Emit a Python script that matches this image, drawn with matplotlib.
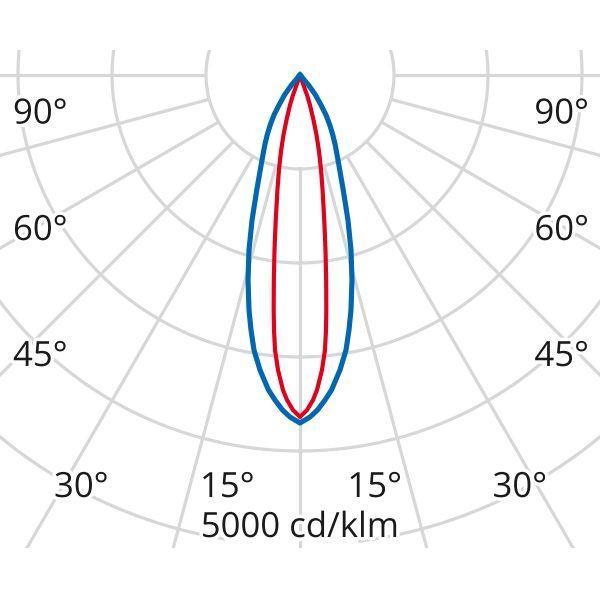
import numpy as np
import matplotlib
matplotlib.use("Agg")
import matplotlib.pyplot as plt
from matplotlib.patches import Rectangle
import matplotlib.patheffects as pe

# ---- data (cd/klm); angle in degrees from nadir ----
blue_angles = [0, 1.67, 2.99, 4.4, 5.71, 7.72, 9.5, 10.88, 12.24, 14.23,
               16.25, 18.3, 20.6, 22.1, 24.1, 26.7, 28.7, 30.8, 33.0, 35.0,
               37.8, 40.4, 43]
blue_values = [3702, 3640, 3569, 3468, 3368, 3167, 2966, 2762, 2558, 2250,
               1939, 1625, 1307, 1148, 990, 834, 727, 619, 508, 390,
               269, 140, 0]
red_angles = [0, 1.2, 2.29, 3.09, 4.26, 5.19, 5.82, 6.39, 7.28, 8.29, 9.5,
              11.1, 12.5, 14.1, 15.4, 16.7, 18.4, 19.3, 19.3, 20]
red_values = [3638, 3565, 3460, 3356, 3147, 2937, 2727, 2516, 2199, 1881,
              1564, 1247, 1035, 823, 662, 500, 336, 225, 113, 0]

grid_circles = [1000, 2000, 3000, 4000, 5000, 6000, 7000]
radial_angles = [-90, -75, -60, -45, -30, -15, 0, 15, 30, 45, 60, 75, 90]
left_labels = ["90°", "60°", "45°"]
bottom_labels = ["30°", "15°", "15°", "30°"]
scale_label = "5000 cd/klm"

# ---- layout ----
W = H = 600
px_per_unit = 94.0 / 1000.0        # pixels per cd/klm
cx, cy = 300, 75                   # polar centre (pixels from top-left)
rmax = 7000
R = rmax * px_per_unit

fig = plt.figure(figsize=(6, 6), dpi=100)
fig.patch.set_facecolor("white")
ax = fig.add_axes([(cx - R) / W, (H - cy - R) / H, 2 * R / W, 2 * R / H],
                  projection="polar")
ax.set_theta_zero_location("S")
ax.set_theta_direction(1)
ax.set_rlim(0, rmax)
ax.set_axis_off()

clip = Rectangle((0, (H - 548) / H), 1, (548 - 50) / H,
                 transform=fig.transFigure, facecolor="none", edgecolor="none")
fig.patches.append(clip)

gcol = "#d7d7d7"
glw = 2.3
full = np.linspace(0, 2 * np.pi, 721)
for r in grid_circles:
    if r == 5000:
        th = np.radians(np.linspace(7.3, 350.6, 700))
    else:
        th = full
    ln, = ax.plot(th, np.full_like(th, r), color=gcol, lw=glw, zorder=1)
    ln.set_clip_path(clip)
for a in radial_angles:
    ln, = ax.plot([np.radians(a)] * 2, [1000, rmax], color=gcol, lw=glw,
                  zorder=1, solid_capstyle="butt")
    ln.set_clip_path(clip)


def mirrored(angles, values):
    a = np.array(angles, dtype=float)
    v = np.array(values, dtype=float)
    th = np.concatenate([-a[::-1], a[1:]])
    rr = np.concatenate([v[::-1], v[1:]])
    return np.radians(th), rr


th, rr = mirrored(red_angles, red_values)
ax.plot(th, rr, color="#e2001a", lw=3.0, zorder=3, solid_joinstyle="round")
th, rr = mirrored(blue_angles, blue_values)
ax.plot(th, rr, color="#0067b1", lw=3.7, zorder=4, solid_joinstyle="round")

# ---- labels ----
font = dict(family=["Open Sans", "DejaVu Sans"], size=25, color="#1a1a1a")
halo = [pe.withStroke(linewidth=5, foreground="white")]


def put(x, y, s, ha):
    fig.text(x / W, (H - y) / H, s, ha=ha, va="baseline",
             path_effects=halo, **font)


for s, y in zip(left_labels, [123.5, 240, 366]):
    put(13, y, s, "left")
    put(589, y, s, "right")
for s, x, ha in zip(bottom_labels, [54, 200, 402, 547],
                    ["left", "left", "right", "right"]):
    put(x, 497, s, ha)
fig.text(300 / W, (H - 537) / H, scale_label, ha="center", va="baseline",
         path_effects=halo, **font)

fig.savefig("out.png", dpi=100, facecolor="white")
